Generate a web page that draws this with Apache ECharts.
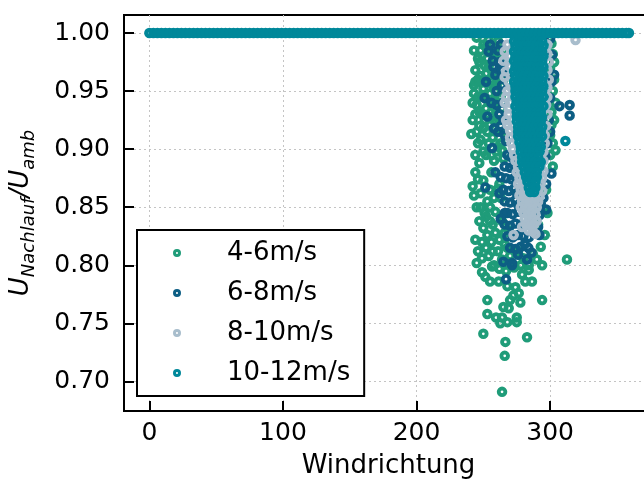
<!DOCTYPE html>
<html>
<head>
<meta charset="utf-8">
<script src="https://cdn.jsdelivr.net/npm/echarts@6/dist/echarts.min.js"></script>
<style>
  html, body { margin: 0; padding: 0; background: #fff; }
  #chart { width: 644px; height: 484px; }
</style>
</head>
<body>
<div id="chart"></div>
<script>
// legend names and colours
var seriesNames = ['4-6m/s', '6-8m/s', '8-10m/s', '10-12m/s'];
var seriesColors = ['#1f9c79', '#0d5e84', '#a8bdcc', '#00889a'];

// tick positions
var xTicks = [0, 100, 200, 300];
var yTicks = [0.70, 0.75, 0.80, 0.85, 0.90, 0.95, 1.00];

// 4-6 m/s  [Windrichtung, U ratio]
var pts46 = [
  [245,0.996],[250,0.990],[254,0.994],[261,0.993],[253,0.978],[254,0.971],[248,0.963],[246,0.960],
  [259,0.950],[260,0.955],[245,0.938],[244,0.930],[255,0.921],[245,0.915],[257,0.910],[254,0.905],
  [264,0.935],[249,0.945],[251,0.925],[262,0.982],[258,0.965],[265,0.960],[263,0.945],[248,0.985],
  [256,0.958],[250,0.952],[262,0.925],[266,0.975],[247,0.920],[259,0.935],[264,0.915],[252,0.935],
  [243,0.948],[241,0.913],[247,0.975],[252,0.965],[256,0.985],[244,0.968],[249,0.930],[253,0.915],
  [258,0.942],[261,0.962],[246,0.905],[250,0.898],[263,0.905],[265,0.892],[244,0.895],[260,0.988],
  [258,0.925],[255,0.948],[242,0.940],[262,0.944],[265,0.985],
  [243,0.985],[246,0.978],[251,0.972],[249,0.958],[243,0.955],[253,0.942],[247,0.932],[257,0.928],
  [250,0.918],[242,0.925],[256,0.895],[248,0.908],[261,0.902],[264,0.899],[244,0.958],[257,0.955],
  [252,0.988],[258,0.978],[246,0.945],
  [301,0.991],[300,0.970],[302,0.950],[301,0.932],[301,0.921],[300,0.912],[302,0.982],[303,0.960],
  [299,0.940],[302,0.905],[304,0.899],[302,0.885],[300,0.895],[303,0.975],[304,0.940],[303,0.925],
  [299,0.960],
  [246,0.874],[242,0.868],[256,0.880],[248,0.862],[253,0.855],[259,0.846],[250,0.832],[249,0.820],
  [246,0.812],[245,0.802],[256,0.820],[261,0.812],[252,0.895],[247,0.888],[258,0.890],[262,0.870],
  [255,0.865],[244,0.880],[251,0.845],[257,0.835],[263,0.858],[266,0.828],[262,0.822],[268,0.815],
  [254,0.808],[250,0.873],[260,0.898],[245,0.850],[253,0.826],[258,0.800],[264,0.805],[270,0.808],
  [276,0.812],[280,0.806],[287,0.810],[291,0.835],[293,0.816],[296,0.826],[298,0.845],[297,0.865],
  [243,0.860],[248,0.850],[252,0.842],[255,0.850],[258,0.858],[261,0.866],[247,0.838],[252,0.815],
  [259,0.828],[264,0.838],[266,0.818],[269,0.830],[255,0.838],[244,0.822],[249,0.806],[257,0.812],
  [262,0.797],[267,0.795],[273,0.798],[278,0.800],[284,0.800],[290,0.805],[294,0.800],
  [253,0.770],[253,0.758],[259.5,0.755],[264,0.755],[262.7,0.750],[268,0.751],[275,0.755],[275,0.751],
  [250,0.741],[266.5,0.734],[282.7,0.738],[266,0.722],[264,0.691],[294,0.770],[277.7,0.768],[265,0.764],
  [269,0.763],[270,0.770],[272.5,0.774],[276.5,0.776],[268,0.782],[274,0.781],[281.4,0.786],[286.4,0.786],
  [255,0.786],[261.5,0.786],[251.5,0.790],[249,0.794],[256.5,0.799],[279,0.792],[284,0.796],[312.6,0.805]
];

// 6-8 m/s
var pts68 = [
  [254,0.984],[257,0.976],[257.5,0.971],[259,0.964],[251,0.944],[260,0.950],[261,0.915],[266,0.912],
  [267,0.907],[263,0.990],[264,0.955],[262,0.930],[268,0.965],[263,0.920],[256.5,0.901],[260,0.938],
  [265,0.925],[262,0.975],[255,0.990],[252,0.958],[256,0.940],[258,0.918],[253,0.928],[261,0.985],
  [264,0.968],[265,0.940],
  [301.5,0.981],[303,0.964],[300,0.944],[307,0.937],[314.6,0.938],[314.6,0.929],[299,0.925],[300,0.995],
  [301,0.958],[300,0.915],[301,0.879],[295,0.858],[296.5,0.894],[298,0.905],[297,0.870],[297,0.848],
  [251.5,0.867],[263,0.876],[266,0.845],[271.5,0.802],[265,0.803],[282.7,0.805],[283.7,0.815],[267,0.788],
  [271.5,0.800],
  [268,0.895],[271,0.893],[266,0.885],[270,0.884],[273,0.886],[267,0.875],[271,0.874],[274,0.876],
  [265,0.865],[269,0.864],[273,0.866],[275,0.862],[266,0.855],[270,0.854],[274,0.856],[276,0.852],
  [293,0.853],[268,0.845],[272,0.844],[276,0.846],[292,0.843],[266,0.835],[270,0.834],[274,0.836],
  [278,0.835],[291,0.833],[268,0.825],[272,0.824],[276,0.826],[280,0.825],[284,0.824],[292,0.826],
  [270,0.815],[274,0.814],[278,0.816],[281,0.818],[276,0.809],[286,0.811],[263,0.840],[262,0.862],
  [259,0.880]
];

// 8-10 m/s
var pts810 = [
  [268,0.990],[266,0.984],[265,0.976],[270,0.971],[267,0.967],[266,0.962],[269,0.958],[268,0.950],
  [267,0.945],[266,0.940],[269,0.935],[269,0.930],[267,0.925],[268,0.921],[270,0.916],[270,0.910],
  [271,0.905],[272,0.900],[273,0.895],[271,0.953],[270,0.980],[270,0.940],[272,0.920],
  [298,0.990],[298,0.982],[299,0.975],[298,0.968],[299,0.960],[298,0.953],[298,0.945],[297,0.938],
  [298,0.930],[297,0.920],[296,0.912],[296,0.905],[295,0.898],[295,0.890],[319,0.994],
  [274,0.890],[277,0.891],[294,0.889],[276,0.885],[293,0.884],[275,0.880],[278,0.880],[292,0.879],
  [295,0.881],[277,0.875],[280,0.874],[291,0.874],[294,0.875],[276,0.870],[279,0.869],[282,0.870],
  [290,0.869],[293,0.870],[278,0.865],[281,0.864],[291,0.865],[294,0.864],[277,0.860],[280,0.859],
  [283,0.860],[286,0.859],[289,0.860],[292,0.859],[279,0.855],[282,0.854],[285,0.855],[288,0.854],
  [291,0.855],[278,0.850],[281,0.849],[284,0.850],[287,0.849],[290,0.850],[280,0.845],[283,0.844],
  [286,0.845],[289,0.844],[281,0.840],[284,0.839],[287,0.840],[290,0.838],[282,0.835],[285,0.834],
  [288,0.835],[284,0.830],[287,0.829],[272.6,0.826],[289,0.827],[279,0.833]
];

// 10-12 m/s: undisturbed directions sit at 1.00
var band1012 = [
  0,3,6,9,12,15,18,21,24,27,30,33,36,39,42,45,48,51,54,57,60,63,66,69,72,75,78,81,84,87,
  90,93,96,99,102,105,108,111,114,117,120,123,126,129,132,135,138,141,144,147,150,153,156,159,
  162,165,168,171,174,177,180,183,186,189,192,195,198,201,204,207,210,213,216,219,222,225,228,
  231,234,237,240,243,246,249,252,255,258,261,264,267,270,273,276,279,282,285,288,291,294,297,
  300,303,306,309,312,315,318,321,324,327,330,333,336,339,342,345,348,351,354,357,359
];
// 10-12 m/s wake: rows of [U ratio, directions]
var rows1012 = [
  [0.993, [273,276,279,282,285,288,291,294]],
  [0.989, [274,277,280,283,286,289,292,295]],
  [0.984, [273,276,279,282,285,288,291,294]],
  [0.980, [274,277,281,284,286,289,292,295]],
  [0.976, [273,276,279,282,285,288,291,294]],
  [0.971, [274,277,280,283,286,290,292,295]],
  [0.967, [273,276,279,282,285,288,291,294]],
  [0.963, [274,277,280,283,287,289,292,295]],
  [0.958, [273,276,279,282,285,288,291,294]],
  [0.954, [274,277,280,283,286,289,292,295]],
  [0.950, [274,276,279,282,285,288,291,294]],
  [0.945, [274,277,280,283,286,289,292,295]],
  [0.941, [275,278,281,284,287,290,293]],
  [0.937, [274,277,280,283,286,289,292,295]],
  [0.932, [275,278,281,284,287,290,293]],
  [0.928, [275,278,280,283,286,289,292,294]],
  [0.924, [275,278,281,284,287,290,293]],
  [0.919, [276,279,282,285,288,291,294]],
  [0.915, [276,279,281,284,287,290,293]],
  [0.911, [276,279,282,285,288,291,294]],
  [0.906, [277,280,283,286,289,292]],
  [0.902, [278,281,284,287,290,293]],
  [0.898, [278,281,284,287,290,292]],
  [0.893, [279,282,285,288,291]],
  [0.889, [279,282,285,288,291,293]],
  [0.885, [280,283,286,289,292]],
  [0.880, [281,284,287,290]],
  [0.876, [282,285,288,290]],
  [0.872, [283,286,289]],
  [0.867, [284,287,289]],
  [0.863, [285,288]]
];
var extra1012 = [[311.4,0.907]];

var pts1012 = band1012.map(function (x) { return [x, 1.0]; });
rows1012.forEach(function (r) {
  r[1].forEach(function (x) { pts1012.push([x, r[0]]); });
});
pts1012 = pts1012.concat(extra1012);

var allData = [pts46, pts68, pts810, pts1012];

// hollow marker: filled annulus with a small hole
var RING = 'path://M0,-10A10,10,0,1,1,0,10A10,10,0,1,1,0,-10ZM0,-2.6A2.6,2.6,0,1,0,0,2.6A2.6,2.6,0,1,0,0,-2.6Z';

var FONT = 'DejaVu Sans';
var chart = echarts.init(document.getElementById('chart'));

chart.setOption({
  animation: false,
  backgroundColor: '#fff',
  grid: {
    left: 124, top: 15, right: -9, bottom: 73,
    outerBoundsMode: 'none', containLabel: false,
    show: true, borderColor: '#000', borderWidth: 2, backgroundColor: 'transparent'
  },
  legend: {
    orient: 'vertical',
    left: 137, top: 230,
    padding: [8, 14, 8, 36],
    itemGap: 10,
    itemWidth: 8, itemHeight: 8,
    selectedMode: false,
    backgroundColor: '#fff',
    borderColor: '#000', borderWidth: 2, borderRadius: 0,
    formatter: function (n) { return '{g|}{t|' + n + '}'; },
    textStyle: {
      fontFamily: FONT, fontSize: 26, color: '#000', lineHeight: 30,
      rich: {
        g: { width: 41, lineHeight: 30 },
        t: { fontFamily: FONT, fontSize: 26, color: '#000', lineHeight: 30 }
      }
    },
    data: seriesNames.map(function (n, i) {
      return { name: n, icon: RING, itemStyle: { color: seriesColors[i], borderWidth: 0 } };
    })
  },
  xAxis: {
    type: 'value', min: -19, max: 377,
    name: 'Windrichtung', nameLocation: 'middle', nameGap: 42,
    nameTextStyle: { fontFamily: FONT, fontSize: 26, color: '#000' },
    axisLine: { lineStyle: { color: '#000', width: 2 } },
    axisTick: { inside: true, length: 10, lineStyle: { color: '#000', width: 2 }, customValues: xTicks },
    axisLabel: { fontFamily: FONT, fontSize: 25, color: '#000', margin: 10, customValues: xTicks },
    splitLine: { show: true, lineStyle: { color: '#c4c4c4', width: 1, type: [2, 3] } }
  },
  yAxis: {
    type: 'value', min: 0.6745, max: 1.0155,
    name: '{u|U}{s|Nachlauf}{u|/U}{s|amb}', nameLocation: 'middle', nameGap: 86, nameRotate: 90,
    nameTextStyle: {
      rich: {
        u: { fontFamily: FONT, fontStyle: 'italic', fontSize: 26, color: '#000', lineHeight: 34, verticalAlign: 'middle' },
        s: { fontFamily: FONT, fontStyle: 'italic', fontSize: 18, color: '#000', lineHeight: 18, verticalAlign: 'bottom' }
      }
    },
    axisLine: { onZero: false, lineStyle: { color: '#000', width: 2 } },
    axisTick: { inside: true, length: 10, lineStyle: { color: '#000', width: 2 }, customValues: yTicks },
    axisLabel: {
      fontFamily: FONT, fontSize: 25, color: '#000', margin: 14, customValues: yTicks,
      formatter: function (v) { return v.toFixed(2); }
    },
    splitLine: { show: true, lineStyle: { color: '#c4c4c4', width: 1, type: [2, 3] } }
  },
  series: allData.map(function (d, i) {
    return {
      name: seriesNames[i],
      type: 'scatter',
      symbol: RING,
      symbolSize: 10.5,
      silent: true,
      itemStyle: { color: seriesColors[i], borderWidth: 0, opacity: 1 },
      data: d
    };
  })
});
</script>
</body>
</html>
